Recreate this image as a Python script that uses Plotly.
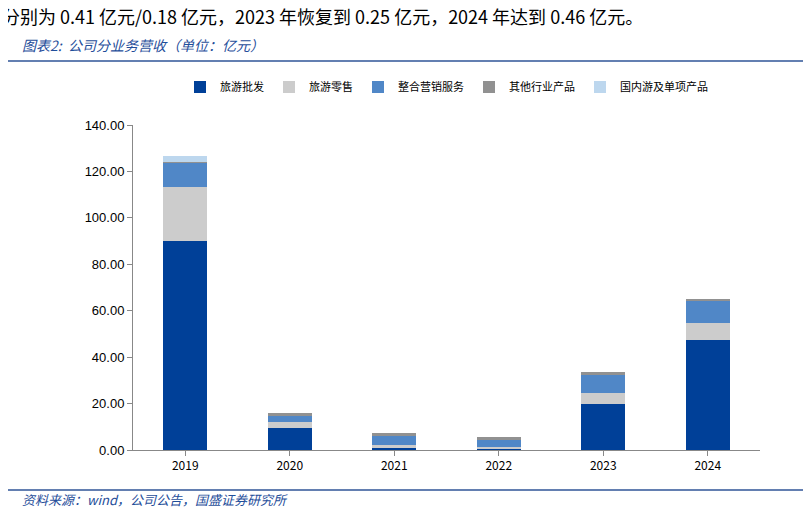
import plotly.graph_objects as go

years = ["2019", "2020", "2021", "2022", "2023", "2024"]
wholesale = [90.0, 9.5, 0.7, 0.7, 19.8, 47.4]
retail = [23.3, 2.6, 1.4, 0.6, 4.7, 7.3]
integrated = [10.4, 2.7, 4.0, 3.0, 7.8, 9.5]
other = [0.4, 1.1, 1.1, 1.3, 1.3, 0.9]
domestic = [2.6, 0.0, 0.0, 0.0, 0.0, 0.0]
names = ["旅游批发", "旅游零售", "整合营销服务", "其他行业产品", "国内游及单项产品"]
colors = ["#004098", "#cccccc", "#5087c7", "#919191", "#bdd7ee"]
series = [wholesale, retail, integrated, other, domestic]
yticks = [0, 20, 40, 60, 80, 100, 120, 140]

font = "Noto Sans CJK SC"
fig = go.Figure()
for n, c, v in zip(names, colors, series):
    fig.add_bar(x=years, y=v, name=n, marker=dict(color=c, line=dict(width=0)), width=0.42)

fig.update_layout(
    barmode="stack", width=803, height=506, plot_bgcolor="white", paper_bgcolor="white",
    margin=dict(l=125, r=51, t=117, b=64),
    font=dict(family=font, size=12, color="black"),
    legend=dict(orientation="h", x=0.5, xanchor="center", y=1+(125-87)/325, yanchor="middle",
                font=dict(size=11), traceorder="normal"),
    xaxis=dict(showline=True, linecolor="#888", ticks="outside", tickcolor="#888",
               ticklen=5, tickfont=dict(size=12)),
    yaxis=dict(range=[0, 140], tickvals=yticks, ticktext=[f"{t:.2f}" for t in yticks],
               showline=True, linecolor="#888", ticks="outside", tickcolor="#888",
               showgrid=False, tickfont=dict(size=13, family="Liberation Sans")),
    bargap=0.5,
)
fig.add_annotation(xref="paper", yref="paper", x=-133/627, y=1+(125-16)/325, xanchor="left",
                   yanchor="middle", showarrow=False,
                   text="分别为 0.41 亿元/0.18 亿元，2023 年恢复到 0.25 亿元，2024 年达到 0.46 亿元。",
                   font=dict(size=18, family=font))
fig.add_annotation(xref="paper", yref="paper", x=-113/627, y=1+(125-45)/325, xanchor="left",
                   yanchor="middle", showarrow=False, text="<i>图表2:  公司分业务营收（单位：亿元）</i>",
                   font=dict(size=14, color="#1f4e9a", family=font))
fig.add_annotation(xref="paper", yref="paper", x=-113/627, y=-(500-450)/325, xanchor="left",
                   yanchor="middle", showarrow=False, text="<i>资料来源：wind，公司公告，国盛证券研究所</i>",
                   font=dict(size=13, color="#1f4e9a", family=font))
fig.add_shape(type="line", xref="paper", yref="paper", x0=-128/627, x1=1+45/627,
              y0=1+(125-61)/325, y1=1+(125-61)/325, line=dict(color="#2f5597", width=1.5))
fig.add_shape(type="line", xref="paper", yref="paper", x0=-128/627, x1=1+45/627,
              y0=-(490-450)/325, y1=-(490-450)/325, line=dict(color="#2f5597", width=1.5))
fig.write_html("out.html")
